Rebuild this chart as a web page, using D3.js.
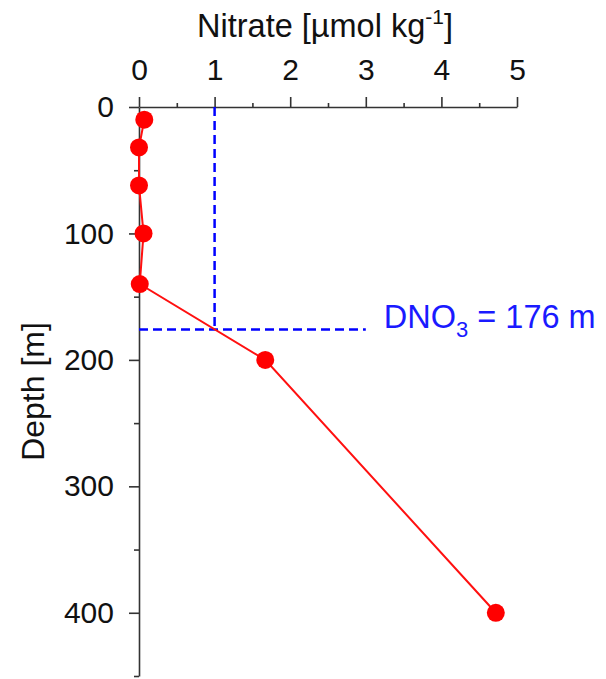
<!DOCTYPE html>
<html>
<head>
<meta charset="utf-8">
<script src="https://cdn.jsdelivr.net/npm/d3@7"></script>
<style>
  body { margin: 0; background: #fff; }
  svg text { font-family: "Liberation Sans", Arial, sans-serif; }
</style>
</head>
<body>
<script>
// nitrate profile data
var depth = [10, 32, 62, 100, 140, 200, 400];
var nitrate = [0.07, 0.0, 0.0, 0.06, 0.01, 1.67, 4.72];

var xMajor = [0, 1, 2, 3, 4, 5];
var xMinor = [0.5, 1.5, 2.5, 3.5, 4.5];
var yMajor = [0, 100, 200, 300, 400];
var yMinor = [50, 150, 250, 350, 450];

// nitracline depth marker
var refNitrate = 1;
var refDepth = 176;
var refLineEnd = 3;

const w = 606;
const h = 679;

const svg = d3.select("body")
  .append("svg")
  .attr("width", w)
  .attr("height", h);

const xScale = d3.scaleLinear().domain([0, 5]).range([139, 517]);
const yScale = d3.scaleLinear().domain([0, 450]).range([107, 676]);

const axisColor = "#333";
const fontSize = 30;

//minor ticks first
svg.append("g")
  .attr("transform", "translate(0," + yScale(0) + ")")
  .call(d3.axisTop(xScale).tickValues(xMinor).tickSize(4).tickFormat(""))
  .call(g => g.select(".domain").remove());

svg.append("g")
  .attr("transform", "translate(" + xScale(0) + ",0)")
  .call(d3.axisLeft(yScale).tickValues(yMinor).tickSize(5).tickFormat(""))
  .call(g => g.select(".domain").remove());

//major axes
svg.append("g")
  .attr("class", "x-axis")
  .attr("transform", "translate(0," + yScale(0) + ")")
  .call(d3.axisTop(xScale).tickValues(xMajor).tickSize(10).tickSizeOuter(0).tickPadding(17).tickFormat(d3.format("d")));

svg.append("g")
  .attr("class", "y-axis")
  .attr("transform", "translate(" + xScale(0) + ",0)")
  .call(d3.axisLeft(yScale).tickValues(yMajor).tickSize(10).tickSizeOuter(0).tickPadding(15).tickFormat(d3.format("d")));

svg.selectAll(".tick line, .domain")
  .attr("stroke", axisColor)
  .attr("stroke-width", 1.6);
svg.selectAll(".tick text")
  .attr("fill", "#111")
  .style("font-size", fontSize + "px");
svg.select(".x-axis").selectAll(".tick text").attr("dy", "0em");

//axis titles
var title = svg.append("text")
  .attr("x", (xScale(0) + xScale(5)) / 2 - 3)
  .attr("y", 37)
  .attr("text-anchor", "middle")
  .attr("fill", "#111")
  .style("font-size", "32.5px");
title.append("tspan").text("Nitrate [\u00b5mol kg");
title.append("tspan").attr("dy", -13).style("font-size", "21px").text("-1");
title.append("tspan").attr("dy", 13).text("]");

svg.append("text")
  .attr("transform", "translate(44," + (yScale(0) + yScale(450)) / 2 + ") rotate(-90)")
  .attr("text-anchor", "middle")
  .attr("fill", "#111")
  .style("font-size", "32px")
  .text("Depth [m]");

//dashed reference lines
svg.append("line")
  .attr("x1", xScale(refNitrate)).attr("x2", xScale(refNitrate))
  .attr("y1", yScale(0)).attr("y2", yScale(refDepth))
  .attr("stroke", "#0000ff")
  .attr("stroke-width", 2.5)
  .attr("stroke-dasharray", "9,5");

svg.append("line")
  .attr("x1", xScale(0)).attr("x2", xScale(refLineEnd))
  .attr("y1", yScale(refDepth)).attr("y2", yScale(refDepth))
  .attr("stroke", "#0000ff")
  .attr("stroke-width", 2.5)
  .attr("stroke-dasharray", "9,5");

var label = svg.append("text")
  .attr("x", xScale(refLineEnd) + 18)
  .attr("y", yScale(refDepth) - 2)
  .attr("fill", "#1a1aff")
  .style("font-size", "32.5px");
label.append("tspan").text("DNO");
label.append("tspan").attr("dy", 9).style("font-size", "22px").text("3");
label.append("tspan").attr("dy", -9).text(" = " + refDepth + " m");

//profile line and points
const line = d3.line()
  .x((d, i) => xScale(nitrate[i]))
  .y((d, i) => yScale(depth[i]));

svg.append("path")
  .datum(depth)
  .attr("d", line)
  .attr("fill", "none")
  .attr("stroke", "#ff1010")
  .attr("stroke-width", 2);

svg.selectAll(".dot")
  .data(depth)
  .enter()
  .append("circle")
  .attr("class", "dot")
  .attr("cx", (d, i) => xScale(nitrate[i]))
  .attr("cy", d => yScale(d))
  .attr("r", 9)
  .attr("fill", "#ff0000");
</script>
</body>
</html>
